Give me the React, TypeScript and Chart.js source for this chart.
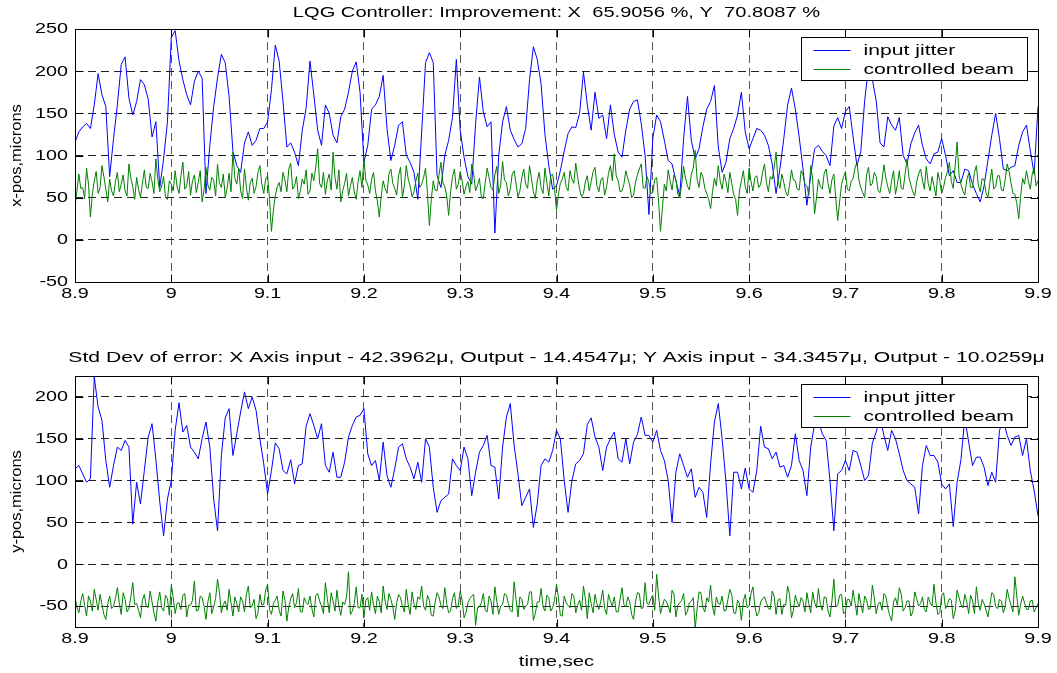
import React, { useEffect, useRef } from "react";
import { Chart, registerables } from "chart.js";

Chart.register(...registerables);

// ---------- data ----------
const START_TIME = 8.9;
const JITTER_STEP = 0.004; // sample spacing of the "input jitter" series (s)
const BEAM_STEP = 0.002; // sample spacing of the "controlled beam" series (s)

const timeTicks = [8.9, 9.0, 9.1, 9.2, 9.3, 9.4, 9.5, 9.6, 9.7, 9.8, 9.9];
const timeTickLabels = ["8.9", "9", "9.1", "9.2", "9.3", "9.4", "9.5", "9.6", "9.7", "9.8", "9.9"];
const xPosTicks = [-50, 0, 50, 100, 150, 200, 250];
const yPosTicks = [-50, 0, 50, 100, 150, 200];

const topTitle = "LQG Controller: Improvement: X  65.9056 %, Y  70.8087 %";
const bottomTitle =
  "Std Dev of error: X Axis input - 42.3962\u03bc, Output - 14.4547\u03bc; Y Axis input - 34.3457\u03bc, Output - 10.0259\u03bc";
const legendLabels = ["input jitter", "controlled beam"];
const xAxisLabel = "time,sec";
const topYLabel = "x-pos,microns";
const bottomYLabel = "y-pos,microns";

const xInputJitter = [
  116, 128, 134, 138, 132, 160, 197, 172, 158, 75,
  120, 160, 208, 217, 168, 148, 164, 190, 184, 167,
  122, 140, 62, 96, 140, 240, 248, 212, 190, 172,
  160, 188, 200, 192, 55, 112, 158, 192, 220, 210,
  170, 105, 88, 80, 115, 128, 112, 118, 132, 132,
  140, 178, 231, 212, 164, 110, 115, 104, 88, 130,
  156, 212, 172, 130, 112, 160, 150, 124, 115, 146,
  155, 175, 200, 211, 175, 92, 112, 155, 160, 170,
  195, 132, 94, 112, 136, 140, 100, 92, 80, 48,
  128, 210, 222, 210, 76, 62, 100, 118, 145, 214,
  130, 98, 75, 66, 138, 193, 152, 134, 140, 8,
  100, 140, 158, 130, 119, 110, 114, 132, 190, 229,
  214, 185, 125, 88, 60, 64, 82, 105, 126, 134,
  133, 150, 199, 160, 130, 175, 144, 148, 120, 160,
  125, 104, 98, 130, 155, 164, 166, 138, 100, 30,
  120, 148, 140, 118, 94, 90, 70, 52, 120, 170,
  118, 96, 108, 134, 155, 164, 183, 110, 80, 92,
  120, 132, 148, 175, 128, 108, 120, 132, 130, 124,
  112, 90, 55, 84, 120, 160, 180, 155, 122, 84,
  41, 76, 108, 112, 105, 100, 88, 135, 145, 132,
  152, 158, 122, 88, 105, 165, 205, 190, 165, 115,
  110, 146, 136, 130, 145, 100, 90, 114, 127, 136,
  112, 96, 90, 102, 104, 120, 100, 76, 82, 68,
  68, 84, 82, 66, 55, 45, 64, 94, 124, 150,
  120, 84, 82, 86, 88, 112, 128, 136, 106, 78,
  158,
];

const xControlledBeam = [
  40, 58, 78, 61, 62, 49, 85, 66, 27, 54, 70, 81, 55, 62, 88, 75, 60, 45, 72, 58,
  52, 69, 80, 57, 66, 77, 58, 52, 90, 73, 63, 48, 74, 60, 50, 67, 83, 62, 61, 79,
  69, 55, 96, 72, 57, 64, 75, 50, 48, 70, 66, 58, 82, 63, 55, 76, 92, 60, 64, 81,
  53, 70, 77, 56, 68, 82, 45, 59, 86, 65, 59, 74, 71, 52, 90, 67, 62, 78, 50, 61,
  79, 57, 104, 73, 66, 85, 58, 49, 84, 62, 47, 68, 73, 55, 63, 80, 88, 66, 55, 72,
  76, 48, 10, 35, 52, 63, 68, 57, 80, 71, 57, 84, 91, 60, 64, 75, 49, 58, 72, 66,
  83, 54, 58, 79, 70, 86, 108, 67, 62, 80, 54, 70, 78, 59, 104, 74, 60, 83, 45, 58,
  67, 79, 52, 64, 74, 57, 48, 69, 82, 62, 96, 71, 65, 55, 72, 80, 58, 46, 27, 52,
  70, 61, 55, 78, 84, 67, 61, 53, 76, 86, 50, 64, 88, 72, 64, 51, 57, 70, 79, 62,
  66, 74, 85, 55, 17, 48, 70, 59, 58, 77, 92, 68, 63, 52, 29, 57, 75, 84, 60, 66,
  81, 70, 54, 63, 69, 56, 90, 78, 58, 65, 73, 50, 49, 68, 85, 74, 62, 59, 77, 87,
  55, 64, 93, 71, 68, 52, 60, 78, 82, 66, 51, 58, 74, 84, 66, 61, 88, 73, 57, 49,
  70, 80, 62, 55, 85, 68, 52, 76, 78, 60, 35, 54, 67, 72, 80, 63, 58, 82, 72, 67,
  91, 74, 60, 51, 55, 69, 76, 58, 69, 81, 86, 64, 57, 71, 74, 53, 63, 79, 88, 70,
  102, 76, 70, 57, 58, 66, 82, 73, 65, 50, 53, 68, 77, 84, 90, 62, 61, 75, 68, 55,
  56, 72, 74, 46, 10, 38, 66, 58, 83, 70, 59, 77, 71, 54, 50, 66, 87, 73, 64, 59,
  78, 85, 106, 72, 62, 80, 75, 61, 55, 48, 37, 57, 73, 64, 88, 70, 60, 78, 69, 56,
  80, 67, 54, 48, 29, 58, 70, 82, 63, 55, 85, 69, 58, 74, 76, 62, 66, 80, 90, 68,
  57, 75, 72, 86, 104, 70, 61, 78, 68, 57, 52, 64, 83, 71, 70, 60, 59, 82, 77, 66,
  64, 53, 88, 72, 31, 50, 72, 63, 60, 79, 84, 67, 55, 71, 78, 49, 23, 45, 66, 74,
  81, 60, 58, 69, 73, 85, 92, 71, 62, 56, 50, 77, 86, 64, 67, 80, 75, 58, 56, 70,
  89, 73, 63, 55, 70, 82, 54, 66, 82, 61, 60, 78, 96, 74, 65, 57, 52, 69, 78, 84,
  71, 60, 87, 67, 58, 75, 64, 52, 80, 70, 55, 63, 74, 81, 92, 69, 61, 88, 116, 77,
  66, 58, 53, 71, 79, 62, 62, 80, 88, 65, 57, 73, 71, 56, 50, 68, 84, 60, 63, 76,
  76, 59, 58, 72, 90, 81, 67, 55, 54, 43, 25, 52, 73, 66, 82, 70, 60, 78, 86, 64,
  70,
];

const yInputJitter = [
  114, 118, 108, 98, 102, 224, 188, 172, 124, 92,
  118, 140, 136, 148, 140, 48, 98, 72, 112, 152,
  168, 125, 75, 34, 78, 100, 160, 193, 158, 166,
  140, 134, 126, 150, 170, 140, 78, 40, 130, 175,
  186, 130, 156, 182, 206, 186, 200, 184, 150, 120,
  84, 112, 145, 138, 112, 108, 125, 96, 118, 120,
  165, 180, 166, 150, 168, 118, 110, 134, 104, 104,
  122, 152, 166, 176, 178, 186, 132, 118, 124, 100,
  146, 106, 92, 114, 140, 144, 126, 116, 102, 122,
  98, 150, 140, 92, 62, 76, 80, 84, 126, 118,
  112, 140, 126, 82, 110, 134, 142, 154, 118, 116,
  78, 140, 176, 192, 142, 108, 70, 80, 90, 44,
  72, 118, 126, 122, 136, 160, 150, 100, 62, 100,
  120, 124, 132, 167, 175, 152, 140, 112, 140, 150,
  158, 126, 122, 150, 120, 146, 155, 176, 154, 154,
  146, 160, 136, 124, 100, 50, 110, 132, 118, 104,
  114, 80, 92, 86, 56, 120, 170, 192, 150, 98,
  34, 110, 110, 90, 115, 90, 86, 112, 165, 140,
  138, 126, 134, 116, 118, 104, 118, 156, 124, 112,
  82, 140, 168, 172, 156, 148, 100, 40, 108, 112,
  124, 112, 136, 134, 118, 100, 106, 145, 158, 176,
  154, 136, 160, 150, 132, 112, 100, 96, 92, 60,
  118, 142, 130, 130, 122, 96, 90, 96, 45, 98,
  125, 175, 146, 118, 128, 128, 116, 94, 110, 98,
  160, 172, 154, 142, 152, 154, 130, 150, 112, 88,
  58,
];

const yControlledBeam = [
  -40, -51, -58, -44, -35, -49, -62, -38, -44, -56, -30, -42, -55, -36, -48, -60, -66, -47, -38, -53,
  -50, -41, -28, -46, -60, -34, -42, -57, -53, -39, -22, -48, -47, -55, -64, -43, -36, -50, -52, -32,
  -45, -58, -68, -45, -33, -52, -56, -37, -41, -61, -25, -40, -59, -47, -46, -54, -37, -35, -63, -49,
  -49, -43, -20, -56, -55, -38, -40, -50, -66, -45, -34, -59, -51, -41, -18, -33, -58, -48, -44, -55,
  -30, -46, -62, -39, -47, -57, -39, -44, -57, -36, -26, -52, -50, -42, -65, -58, -36, -49, -48, -31,
  -24, -54, -60, -47, -43, -38, -55, -62, -32, -43, -68, -51, -41, -35, -52, -46, -29, -57, -57, -40,
  -46, -48, -38, -53, -63, -37, -35, -44, -50, -59, -22, -41, -58, -34, -44, -56, -31, -50, -61, -45,
  -48, -39, -9, -60, -56, -47, -27, -52, -52, -36, -64, -43, -40, -55, -33, -49, -59, -38, -45, -58,
  -26, -44, -54, -35, -42, -51, -66, -46, -36, -40, -50, -57, -30, -48, -60, -33, -47, -54, -39, -42,
  -26, -50, -55, -37, -43, -61, -62, -45, -34, -39, -49, -53, -28, -47, -58, -56, -41, -34, -53, -49,
  -32, -43, -64, -58, -46, -41, -38, -36, -73, -52, -51, -46, -35, -55, -57, -38, -44, -60, -27, -44,
  -60, -50, -48, -35, -37, -47, -55, -57, -21, -42, -63, -39, -42, -54, -50, -48, -33, -33, -67, -59,
  -45, -45, -29, -51, -56, -37, -40, -56, -52, -43, -24, -40, -61, -62, -38, -46, -49, -52, -35, -38,
  -58, -49, -43, -55, -26, -41, -65, -34, -47, -58, -36, -47, -54, -44, -31, -53, -60, -36, -44, -50,
  -39, -57, -57, -42, -28, -48, -51, -39, -45, -60, -66, -45, -34, -35, -53, -52, -22, -47, -48, -41,
  -37, -55, -12, -38, -59, -50, -42, -44, -50, -58, -31, -36, -63, -49, -46, -43, -35, -61, -56, -46,
  -44, -40, -77, -53, -33, -34, -52, -57, -40, -45, -25, -51, -61, -39, -47, -48, -38, -56, -55, -42,
  -30, -37, -58, -59, -43, -47, -67, -44, -36, -52, -50, -35, -27, -50, -62, -58, -45, -41, -39, -46,
  -53, -54, -32, -38, -60, -43, -41, -60, -48, -49, -26, -36, -64, -55, -37, -45, -51, -40, -44, -57,
  -34, -47, -58, -33, -46, -52, -29, -48, -55, -39, -40, -56, -63, -44, -18, -51, -49, -37, -36, -59,
  -57, -42, -42, -50, -31, -46, -61, -35, -47, -58, -38, -43, -54, -53, -25, -40, -59, -48, -45, -55,
  -35, -38, -52, -61, -68, -45, -40, -49, -28, -36, -56, -52, -44, -44, -62, -57, -33, -41, -50, -47,
  -39, -54, -57, -39, -46, -50, -24, -46, -60, -58, -37, -34, -53, -48, -41, -43, -65, -56, -31, -40,
  -48, -52, -36, -45, -59, -37, -43, -59, -27, -47, -55, -42, -47, -55, -63, -49, -34, -36, -51, -53,
  -42, -44, -58, -50, -30, -41, -49, -57, -15, -38, -61, -48, -38, -46, -54, -54, -44, -43, -57, -52,
  -47,
];

// ---------- drawing helpers ----------
const FONT_FAMILY = '"Liberation Sans", Arial, Helvetica, sans-serif';
const STRETCH = 1.41;

function drawText(
  ctx: CanvasRenderingContext2D,
  text: string,
  x: number,
  y: number,
  size: number,
  align: CanvasTextAlign,
  sx: number = STRETCH,
  rotate: boolean = false
) {
  ctx.save();
  ctx.translate(x, y);
  if (rotate) ctx.rotate(-Math.PI / 2);
  ctx.scale(sx, 1);
  ctx.font = `${size}px ${FONT_FAMILY}`;
  ctx.textAlign = align;
  ctx.textBaseline = "middle";
  ctx.fillStyle = "#000";
  ctx.fillText(text, 0, 0);
  ctx.restore();
}

type PanelCfg = {
  title: string;
  titleY: number;
  titleStretch: number;
  yLabel: string;
  yTicks: number[];
  yMin: number;
  yMax: number;
  xLabel?: string;
  xLabelY?: number;
};

function makeDecorPlugin(cfg: PanelCfg) {
  return {
    id: "panelDecor",
    afterDraw(chart: any) {
      const { ctx, chartArea: a, scales } = chart;
      const xs = scales.x;
      const ys = scales.y;
      const L = Math.round(a.left) + 0.5;
      const R = Math.round(a.right) + 0.5;
      const T = Math.round(a.top) + 0.5;
      const B = Math.round(a.bottom) + 0.5;
      ctx.save();
      ctx.strokeStyle = "#000";
      ctx.lineWidth = 1;
      ctx.setLineDash([]);
      ctx.strokeRect(L, T, R - L, B - T);
      // inner tick marks
      const tl = 8;
      ctx.beginPath();
      timeTicks.forEach((v) => {
        const px = Math.round(xs.getPixelForValue(v)) + 0.5;
        ctx.moveTo(px, B);
        ctx.lineTo(px, B - tl);
        ctx.moveTo(px, T);
        ctx.lineTo(px, T + tl);
      });
      cfg.yTicks.forEach((v) => {
        const py = Math.round(ys.getPixelForValue(v)) + 0.5;
        ctx.moveTo(L, py);
        ctx.lineTo(L + tl, py);
        ctx.moveTo(R, py);
        ctx.lineTo(R - tl, py);
      });
      ctx.stroke();

      // tick labels
      timeTicks.forEach((v, i) => {
        drawText(ctx, timeTickLabels[i], xs.getPixelForValue(v), a.bottom + 12, 14, "center");
      });
      cfg.yTicks.forEach((v) => {
        drawText(ctx, String(v), a.left - 7, ys.getPixelForValue(v) + 0.5, 14, "right");
      });

      // titles and labels
      const cx = (a.left + a.right) / 2;
      drawText(ctx, cfg.title, cx, cfg.titleY, 15, "center", cfg.titleStretch);
      drawText(ctx, cfg.yLabel, 17, (a.top + a.bottom) / 2, 15, "center", 1.1, true);
      if (cfg.xLabel && cfg.xLabelY !== undefined) {
        drawText(ctx, cfg.xLabel, cx, cfg.xLabelY, 15, "center", 1.35);
      }

      // legend box
      const bw = 226;
      const bh = 43;
      const bx = Math.round(a.right - 11 - bw) + 0.5;
      const by = Math.round(a.top + 8) + 0.5;
      ctx.fillStyle = "#fff";
      ctx.fillRect(bx, by, bw, bh);
      ctx.strokeStyle = "#000";
      ctx.lineWidth = 1;
      ctx.strokeRect(bx, by, bw, bh);
      const colors = ["#0000ff", "#008000"];
      legendLabels.forEach((lab, i) => {
        const yy = Math.round(by + 12 + i * 19) + 0.5;
        ctx.save();
        ctx.strokeStyle = colors[i];
        ctx.lineWidth = 1;
        ctx.beginPath();
        ctx.moveTo(bx + 12, yy);
        ctx.lineTo(bx + 49, yy);
        ctx.stroke();
        ctx.restore();
        drawText(ctx, lab, bx + 62, yy, 15, "left");
      });
      ctx.restore();
    },
  };
}

function toPoints(values: number[], step: number) {
  return values.map((v, i) => ({ x: START_TIME + i * step, y: v }));
}

type PanelProps = {
  cfg: PanelCfg;
  blue: number[];
  green: number[];
  top: number;
  height: number;
  padTop: number;
  padBottom: number;
};

function Panel({ cfg, blue, green, top, height, padTop, padBottom }: PanelProps) {
  const ref = useRef<HTMLCanvasElement>(null);
  useEffect(() => {
    const canvas = ref.current;
    if (!canvas) return;
    const chart = new Chart(canvas, {
      type: "line",
      data: {
        datasets: [
          {
            label: legendLabels[0],
            data: toPoints(blue, JITTER_STEP),
            borderColor: "#0000ff",
            borderWidth: 1,
            pointRadius: 0,
            tension: 0,
            order: 1,
          },
          {
            label: legendLabels[1],
            data: toPoints(green, BEAM_STEP),
            borderColor: "#008000",
            borderWidth: 1,
            pointRadius: 0,
            tension: 0,
            order: 0,
          },
        ],
      },
      options: {
        animation: false,
        responsive: false,
        devicePixelRatio: 1,
        events: [],
        layout: { padding: { left: 75, right: 19, top: padTop, bottom: padBottom } },
        plugins: {
          legend: { display: false },
          tooltip: { enabled: false },
          title: { display: false },
        },
        scales: {
          x: {
            type: "linear",
            min: 8.9,
            max: 9.9,
            afterBuildTicks: (s: any) => {
              s.ticks = timeTicks.map((v) => ({ value: v }));
            },
            afterFit: (s: any) => {
              s.height = 0;
            },
            ticks: { display: false },
            grid: { color: "#555", lineWidth: 1, drawTicks: false, borderDash: [8, 5] } as any,
            border: { display: false, dash: [8, 5] },
          },
          y: {
            type: "linear",
            min: cfg.yMin,
            max: cfg.yMax,
            afterBuildTicks: (s: any) => {
              s.ticks = cfg.yTicks.map((v) => ({ value: v }));
            },
            afterFit: (s: any) => {
              s.width = 0;
            },
            ticks: { display: false },
            grid: { color: "#222", lineWidth: 1, drawTicks: false, borderDash: [8, 5] } as any,
            border: { display: false, dash: [8, 5] },
          },
        },
      } as any,
      plugins: [makeDecorPlugin(cfg)],
    });
    return () => chart.destroy();
  }, []);
  return (
    <canvas
      ref={ref}
      width={1057}
      height={height}
      style={{ position: "absolute", left: 0, top, display: "block" }}
    />
  );
}

const topCfg: PanelCfg = {
  title: topTitle,
  titleY: 12.5,
  titleStretch: 1.34,
  yLabel: topYLabel,
  yTicks: xPosTicks,
  yMin: -50,
  yMax: 250,
};

const bottomCfg: PanelCfg = {
  title: bottomTitle,
  titleY: 21.5,
  titleStretch: 1.41,
  yLabel: bottomYLabel,
  yTicks: yPosTicks,
  yMin: -75,
  yMax: 225,
  xLabel: xAxisLabel,
  xLabelY: 326,
};

export default function App() {
  return (
    <div
      style={{
        position: "absolute",
        left: 0,
        top: 0,
        width: 1057,
        height: 673,
        background: "#fff",
        overflow: "hidden",
      }}
    >
      <Panel cfg={topCfg} blue={xInputJitter} green={xControlledBeam} top={0} height={336} padTop={29} padBottom={54} />
      <Panel cfg={bottomCfg} blue={yInputJitter} green={yControlledBeam} top={336} height={337} padTop={40} padBottom={46} />
    </div>
  );
}
